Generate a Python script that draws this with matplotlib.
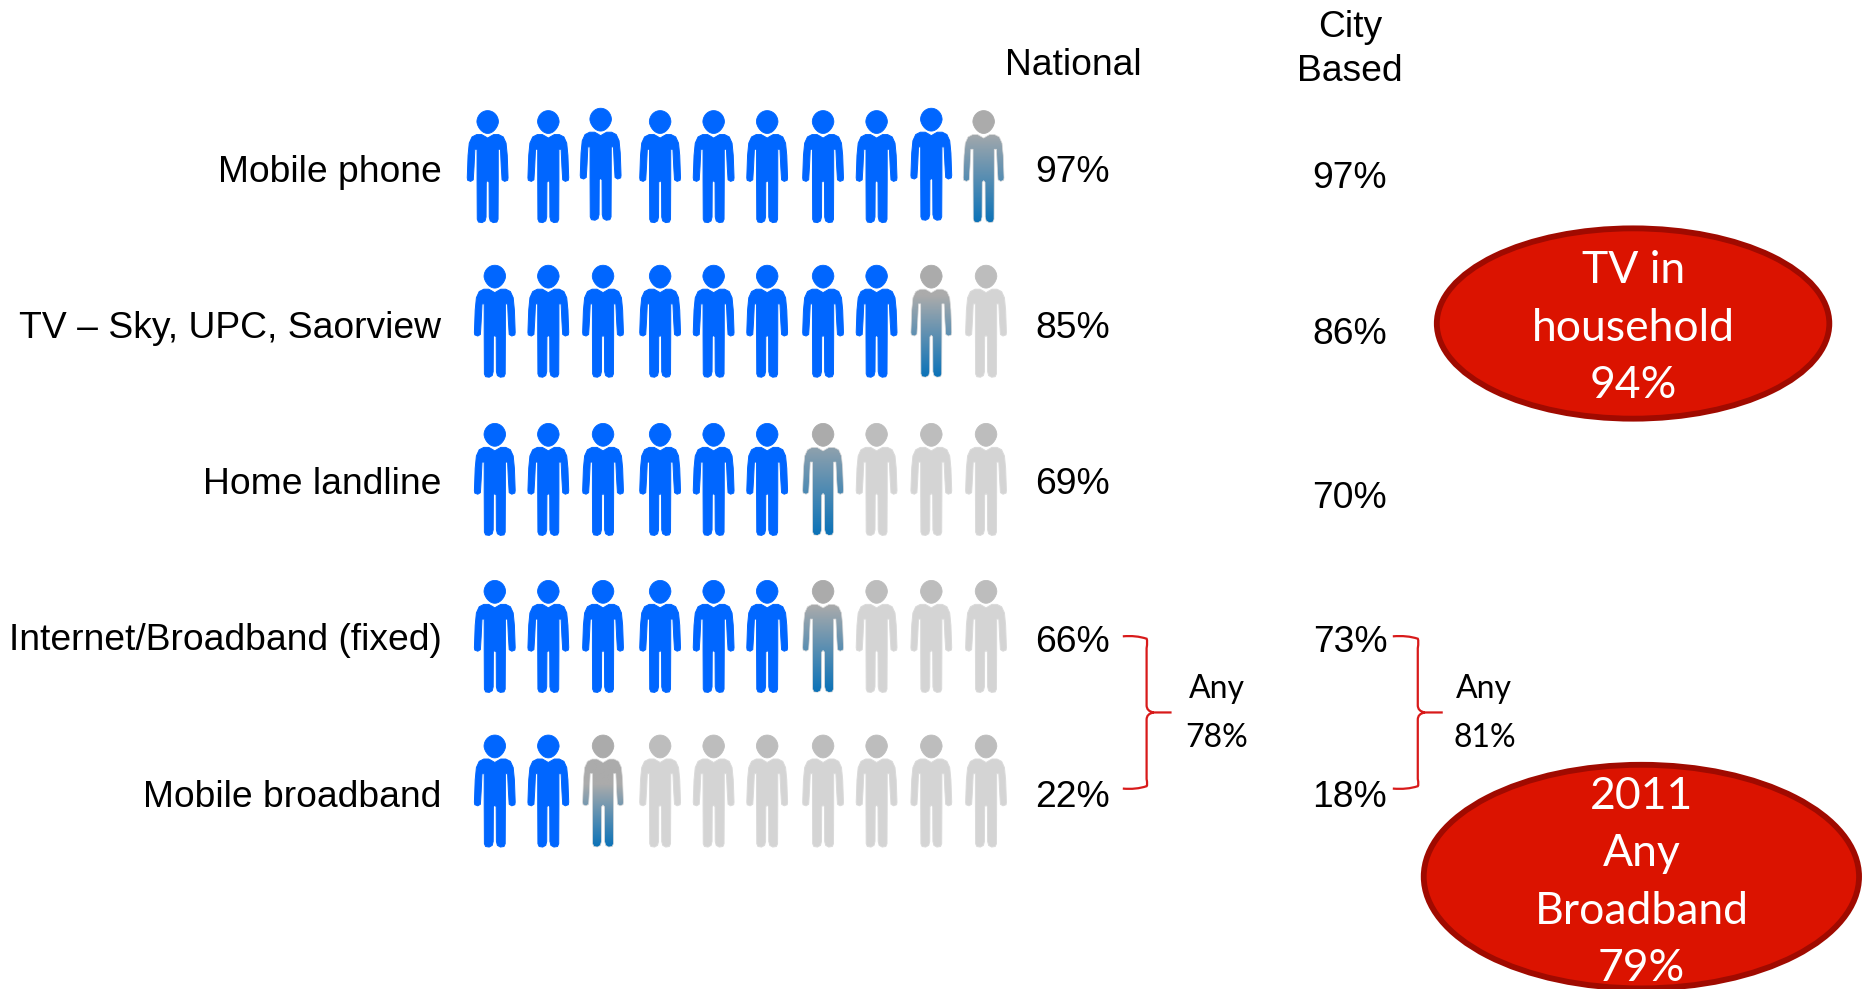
import numpy as np
import matplotlib
matplotlib.use("Agg")
import matplotlib.pyplot as plt
from matplotlib.patches import Ellipse, PathPatch
from matplotlib.path import Path
from matplotlib.colors import to_rgb

categories = ["Mobile phone", "TV – Sky, UPC, Saorview", "Home landline",
              "Internet/Broadband (fixed)", "Mobile broadband"]
national = [97, 85, 69, 66, 22]
city = [97, 86, 70, 73, 18]
any_national = 78
any_city = 81
tv_lines = ["TV in", "household", "94%"]
bb_lines = ["2011", "Any", "Broadband", "79%"]

S = 1865 / 1568  # layout below is measured in the 1568-wide view
fig = plt.figure(figsize=(18.65, 9.89), dpi=100)
ax = fig.add_axes([0, 0, 1, 1])
ax.set_xlim(0, 1865)
ax.set_ylim(989, 0)
ax.axis("off")

ARIAL = "Liberation Sans"
CAL = "Lato"
BLUE = "#0066FF"
GREY = "#D4D4D4"
GREY_HEAD = "#BDBDBD"
MID = "#ABABAB"
EDGE = "#DADADA"

right = [(0.0, 0.245), (0.16, 0.228), (0.30, 0.214), (0.55, 0.214), (0.78, 0.235), (0.92, 0.29),
         (0.98, 0.40), (1.02, 0.60), (1.00, 0.622), (0.85, 0.632), (0.72, 0.618), (0.68, 0.50),
         (0.64, 0.345), (0.53, 0.345), (0.53, 0.62), (0.52, 0.97), (0.46, 0.995), (0.28, 1.0),
         (0.13, 0.985), (0.08, 0.95), (0.07, 0.64), (0.0, 0.625)]


def person(cx, top, w=20.0, h=112):
    pts = right + [(-x, y) for x, y in right[::-1][1:-1]]
    body = [(cx + x * w, top + y * h) for x, y in pts]
    body_path = Path(body + [body[0]], closed=True)
    t = np.linspace(0, 2 * np.pi, 50)
    rx = 0.54 * w * (1 - 0.14 * (np.sin(t) > 0) * np.sin(t))
    hx = cx + rx * np.cos(t)
    hy = top + 0.102 * h + 0.102 * h * np.sin(t)
    head_path = Path(np.column_stack([hx, hy]), closed=True)
    return head_path, body_path


def draw(cx, top, state, rem=0):
    head, body = person(cx, top)
    if state == "full":
        cols = (BLUE, BLUE)
    elif state == "empty":
        cols = (GREY_HEAD, GREY)
    else:
        cols = (MID, None)
    ax.add_patch(PathPatch(head, fc=cols[0], ec=cols[0], lw=0.6, zorder=3))
    ec = BLUE if state == "full" else EDGE
    if cols[1] is not None:
        ax.add_patch(PathPatch(body, fc=cols[1], ec=ec, lw=0.7, joinstyle="round", zorder=3))
    else:
        # partly filled figure: grey at the top fading to blue from the feet
        start = 1 - rem / 10
        n = 200
        yy = np.linspace(0, 1, n)
        k = np.clip((yy - start * 0.55) / (1 - start * 0.55), 0, 1)
        c0, c1 = np.array(to_rgb(MID)), np.array(to_rgb("#0A72B8"))
        img = c0[None, :] + (c1 - c0)[None, :] * k[:, None]
        xs = body.vertices[:, 0]
        im = ax.imshow(img[:, None, :], extent=[xs.min() - 2, xs.max() + 2, top + 112, top],
                       aspect="auto", zorder=3, interpolation="bilinear")
        patch = PathPatch(body, fc="none", ec=EDGE, lw=0.5, joinstyle="round", zorder=4)
        ax.add_patch(patch)
        im.set_clip_path(patch)


xs_first = [410, 461, 505, 555, 600, 645, 692, 737, 783, 827]
xs_other = [416, 461, 507, 555, 600, 645, 692, 737, 783, 829]
tops = [93, 223, 356, 488, 618]
raised = {2, 8}
for r, v in enumerate(national):
    nfull, rem = v // 10, v % 10
    xs = xs_first if r == 0 else xs_other
    for i in range(10):
        top = tops[r] - (2 if r == 0 and i in raised else 0)
        state = "full" if i < nfull else ("part" if i == nfull and rem else "empty")
        draw(xs[i] * S, top * S, state, rem)

label_y = [142, 273, 404, 535, 667]
nat_y = [142, 273, 404, 537, 667]
city_y = [147, 278, 416, 537, 667]
FS = 26.8
for c, n, m, ly, ny, my in zip(categories, national, city, label_y, nat_y, city_y):
    ax.text(371 * S, ly * S, c, ha="right", va="center_baseline", fontsize=FS, family=ARIAL, color="black")
    ax.text(902 * S, ny * S, f"{n}%", ha="center", va="center_baseline", fontsize=FS, family=ARIAL)
    ax.text(1135 * S, my * S, f"{m}%", ha="center", va="center_baseline", fontsize=FS, family=ARIAL)

ax.text(902 * S, 52 * S, "National", ha="center", va="center_baseline", fontsize=FS, family=ARIAL)
ax.text(1135 * S, 20 * S, "City", ha="center", va="center_baseline", fontsize=FS, family=ARIAL)
ax.text(1135 * S, 57 * S, "Based", ha="center", va="center_baseline", fontsize=FS, family=ARIAL)


def brace(x0, xm, xt, y0, yt, y1):
    v = [(x0, y0), (xm - 9, y0 - 1), (xm, y0 + 2), (xm + 1, y0 + 4), (xm, y0 + 10), (xm, yt - 6),
         (xm, yt - 1), (xm + 6, yt), (xt, yt),
         (xm + 6, yt), (xm, yt + 1), (xm, yt + 6), (xm, y1 - 8), (xm + 1, y1 - 3), (xm, y1 - 2), (xm - 9, y1 + 1), (x0, y1)]
    c = [Path.MOVETO, Path.CURVE3, Path.CURVE3, Path.CURVE3, Path.CURVE3, Path.LINETO,
         Path.CURVE3, Path.CURVE3, Path.LINETO,
         Path.MOVETO, Path.CURVE3, Path.CURVE3, Path.LINETO, Path.CURVE3, Path.CURVE3, Path.CURVE3, Path.CURVE3]
    v = [(px * S, py * S) for px, py in v]
    ax.add_patch(PathPatch(Path(v, c), fc="none", ec="#D81A1A", lw=1.6, zorder=5))


brace(944, 964, 985, 535, 599, 663)
brace(1171, 1192, 1213, 535, 599, 663)

for x, val in ((1023, any_national), (1248, any_city)):
    ax.text(x * S, 579 * S, "Any", ha="center", va="center", fontsize=23, family=CAL, color="black")
    ax.text(x * S, 618 * S, f"{val}%", ha="center", va="center_baseline", fontsize=23, family=CAL, color="black")

for cx, cy, rx, ry in ((1373, 272, 165, 80), (1380, 737, 183, 94)):
    ax.add_patch(Ellipse((cx * S, cy * S), 2 * rx * S, 2 * ry * S, fc="#DB1300", ec="#A00A00", lw=4.2, zorder=2))

for line, y in zip(tv_lines, [224, 273, 321]):
    ax.text(1373 * S, y * S, line, ha="center", va="center_baseline", fontsize=32, family=CAL, color="white", zorder=6)
for line, y in zip(bb_lines, [666, 714, 763, 811]):
    ax.text(1380 * S, y * S, line, ha="center", va="center_baseline", fontsize=32, family=CAL, color="white", zorder=6)

ax.set_xlim(0, 1865)
ax.set_ylim(989, 0)
fig.savefig("out.png", dpi=100, facecolor="white")
